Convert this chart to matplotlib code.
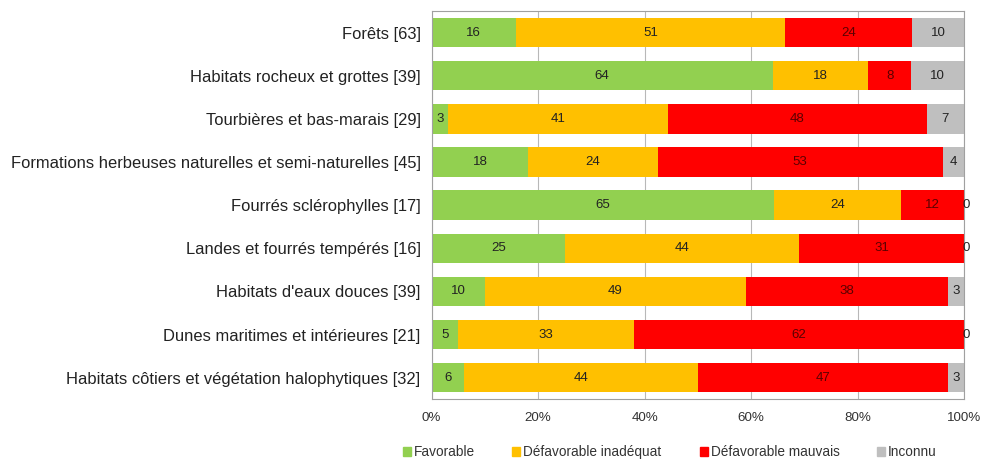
import numpy as np
import matplotlib.pyplot as plt
from matplotlib.patches import Patch

plt.rcParams['font.family'] = ['Liberation Sans', 'DejaVu Sans']

categories = [
    "Forêts [63]",
    "Habitats rocheux et grottes [39]",
    "Tourbières et bas-marais [29]",
    "Formations herbeuses naturelles et semi-naturelles [45]",
    "Fourrés sclérophylles [17]",
    "Landes et fourrés tempérés [16]",
    "Habitats d'eaux douces [39]",
    "Dunes maritimes et intérieures [21]",
    "Habitats côtiers et végétation halophytiques [32]",
]
favorable = [16, 64, 3, 18, 65, 25, 10, 5, 6]
inadequat = [51, 18, 41, 24, 24, 44, 49, 33, 44]
mauvais = [24, 8, 48, 53, 12, 31, 38, 62, 47]
inconnu = [10, 10, 7, 4, 0, 0, 3, 0, 3]

series_names = ["Favorable", "Défavorable inadéquat", "Défavorable mauvais", "Inconnu"]
colors = ["#92D050", "#FFC000", "#FF0000", "#BFBFBF"]
text_colors = ["#222222", "#222222", "#5a0000", "#222222"]

fig = plt.figure(figsize=(9.81, 4.61), dpi=100)
ax = fig.add_axes([0.440, 0.134, 0.543, 0.842])

data = np.array([favorable, inadequat, mauvais, inconnu], dtype=float)
totals = data.sum(axis=0)
shares = data / totals * 100  # 100% stacked

y = np.arange(len(categories))
left = np.zeros(len(categories))
for raw, vals, name, col, tcol in zip(data, shares, series_names, colors, text_colors):
    ax.barh(y, vals, left=left, height=0.68, color=col, zorder=2)
    for yi, (l, v, r) in enumerate(zip(left, vals, raw)):
        if r == 0:
            ax.text(100.3, yi, "0", ha="center", va="center", fontsize=9.5, color=tcol, zorder=3)
        else:
            ax.text(l + v / 2, yi, f"{int(r)}", ha="center", va="center", fontsize=9.5, color=tcol, zorder=3)
    left += vals

ax.set_xlim(0, 100)
ax.set_ylim(len(categories) - 0.5, -0.5)
ax.set_yticks(y)
ax.set_yticklabels(categories, fontsize=11.85, color="#222222")
ax.set_xticks(np.arange(0, 101, 20))
ax.set_xticklabels([f"{v}%" for v in range(0, 101, 20)], fontsize=9.6, color="#333333")
ax.tick_params(axis="y", length=0, pad=8)
ax.tick_params(axis="x", length=0, pad=9)
ax.grid(axis="x", color="#B8B8B8", linewidth=0.8, zorder=0)
for s in ax.spines.values():
    s.set_color("#A0A0A0")
    s.set_linewidth(0.8)

# legend entries placed individually, spread like the original
legend_x = [0.411, 0.522, 0.7136, 0.894]
for xpos, c, n in zip(legend_x, colors, series_names):
    fig.legend(handles=[Patch(color=c, label=n)], loc="center left",
               bbox_to_anchor=(xpos, 0.0195), frameon=False, fontsize=9.8,
               handlelength=0.6, handleheight=0.6, handletextpad=0.2,
               borderpad=0, borderaxespad=0, labelcolor="#333333")

fig.savefig("out.png", dpi=100)
